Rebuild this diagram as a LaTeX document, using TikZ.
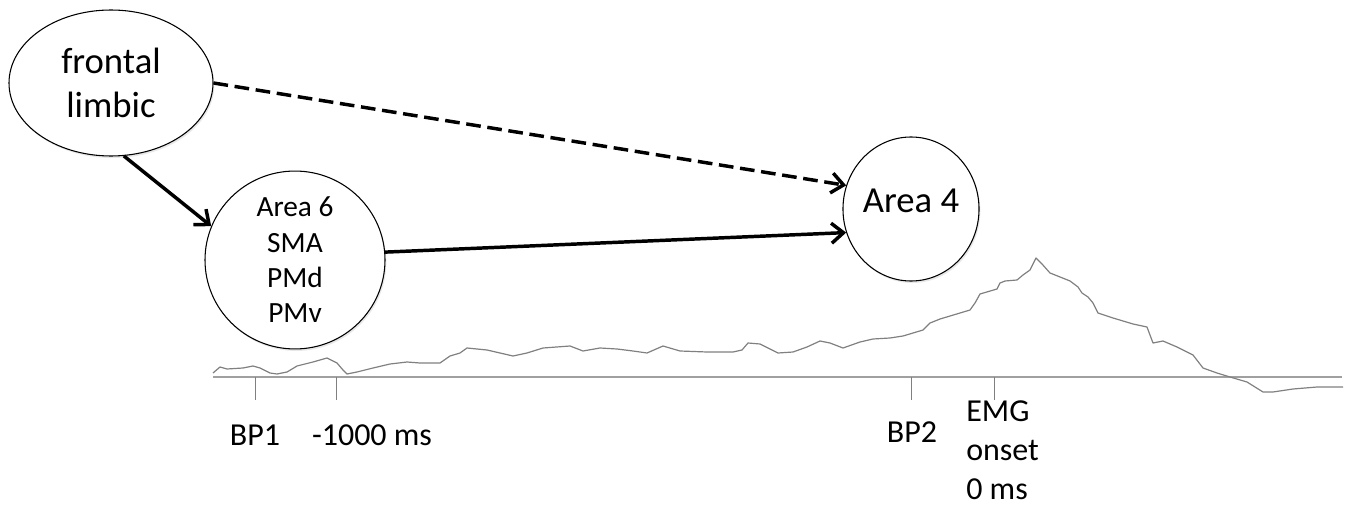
\documentclass[tikz,border=0pt]{standalone}
\usepackage{fontspec}
\setmainfont{Carlito}
\usetikzlibrary{shapes.geometric, arrows.meta, shadows}
\definecolor{TraceGrey}{RGB}{128, 128, 128}
\definecolor{AxisGrey}{RGB}{160, 160, 160}

\begin{document}
\begin{tikzpicture}[
    % one unit = one pixel, y grows downwards
    x=0.75pt, y=-0.75pt,
    % --- STYLES ---
    % Brain areas: plain white ellipses
    area/.style={
        ellipse,
        draw=black,
        line width=0.8pt,
        fill=white,
        inner sep=0pt,
        align=center,
        drop shadow={opacity=0.18, shadow xshift=1pt, shadow yshift=-1.5pt}
    },
    bigtext/.style={font=\fontsize{27.5}{33}\selectfont},
    smalltext/.style={font=\fontsize{22}{26.5}\selectfont},
    % Connections between areas
    arrow/.style={
        line width=2.6pt,
        -{Straight Barb[length=9pt, width=15pt]}
    },
    % Time axis and its labels
    axis/.style={draw=AxisGrey, line width=1.5pt},
    tick/.style={draw=TraceGrey, line width=0.7pt},
    timelabel/.style={inner sep=0pt, font=\fontsize{24}{29.25}\selectfont},
    trace/.style={draw=TraceGrey, line width=0.9pt, line join=round}
]
\useasboundingbox (0,0) rectangle (1350,506);

% --- AREAS ---
\node (frontal) [area, bigtext, minimum width=153pt, minimum height=109.5pt] at (111,83) {frontal\\limbic};
\node (area6) [area, smalltext, minimum width=135pt, minimum height=105pt] at (295,260) {Area 6\\SMA\\PMd\\PMv};
\node (area4) [area, bigtext, minimum width=97.5pt, minimum height=108pt, text depth=13pt] at (911,209) {Area 4};

% --- CONNECTIONS ---
\draw [arrow, dash pattern=on 11pt off 5pt] (frontal.east) -- (area4.160);
\draw [arrow] (frontal.-80) -- (area6.158);
\draw [arrow] (area6.5) -- (area4.200);

% --- TIME AXIS ---
\draw [axis] (213,376.5) -- (1342,376.5);
\foreach \t in {255,336,911,994}
    \draw [tick] (\t,377) -- (\t,400);

\node (bp1) [timelabel, anchor=base] at (255,445) {BP1};
\node (minus1000) [timelabel, anchor=base] at (372,445) {-1000 ms};
\node (bp2) [timelabel, anchor=base] at (912,442) {BP2};
\node (emg) [timelabel, anchor=north west, align=left] at (966,400.5) {EMG\\onset\\0 ms};

% --- AVERAGED POTENTIAL ---
\draw [trace] plot coordinates {
    (213,373) (220,367) (227,369) (243,368) (253,366) (260,368) (270,373)
    (277,374) (287,372) (297,366) (313,362) (327,358) (337,363) (343,370)
    (347,374) (357,372) (373,368) (390,364) (407,362) (420,363) (440,363)
    (450,356) (460,353) (467,348) (487,350) (500,353) (513,356) (527,353)
    (543,348) (570,346) (583,351) (600,348) (617,349) (633,351) (647,353)
    (663,346) (680,351) (707,352) (733,352) (742,350) (748,343) (760,344)
    (770,349) (778,353) (793,352) (807,347) (820,341) (830,343) (843,348)
    (860,342) (873,339) (890,338) (903,336) (923,330) (930,323) (940,319)
    (970,310) (975,303) (980,294) (997,289) (1000,283) (1005,281) (1017,280)
    (1023,275) (1030,270) (1036,258) (1042,264) (1050,273) (1060,277)
    (1070,281) (1078,287) (1082,293) (1088,297) (1093,303) (1098,313)
    (1113,318) (1133,324) (1147,327) (1150,335) (1153,343) (1163,341)
    (1177,347) (1193,355) (1203,368) (1217,373) (1230,377) (1247,382)
    (1263,392) (1273,392) (1293,389) (1317,387) (1343,387)
};

\end{tikzpicture}
\end{document}
